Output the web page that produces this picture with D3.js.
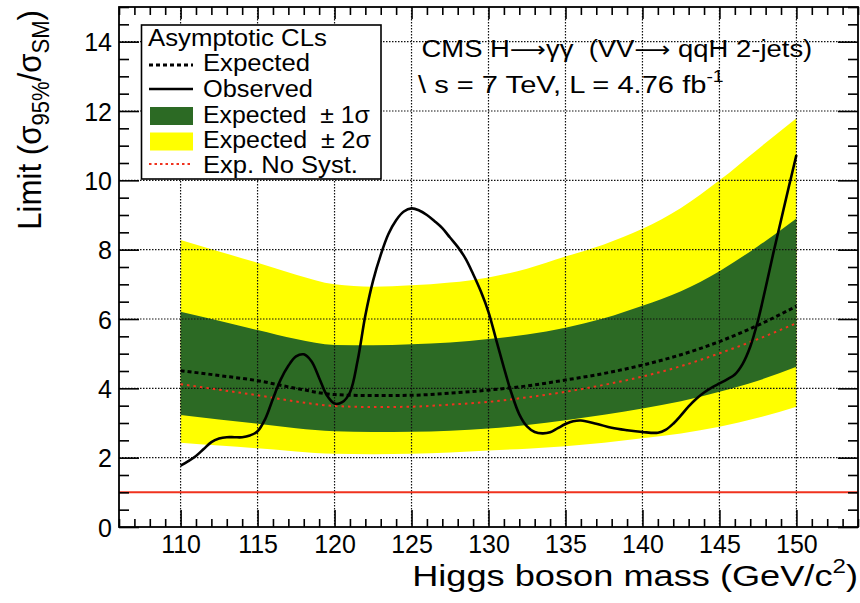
<!DOCTYPE html>
<html><head><meta charset="utf-8">
<script src="https://cdn.jsdelivr.net/npm/d3@7"></script>
<style>
body{margin:0;background:#fff}
text{font-family:"Liberation Sans",Arial,Helvetica,sans-serif;fill:#000}
</style>
</head><body>
<svg id="c" width="860" height="603"></svg>
<script>
// ---- data ----
const bandMass  = [110,112.5,115,117.5,120,122.5,125,127.5,130,132.5,135,137.5,140,142.5,145,147.5,150];
const yellowHi  = [8.28,7.95,7.62,7.28,7.00,6.93,6.97,7.05,7.20,7.45,7.80,8.15,8.60,9.20,10.0,10.9,11.79];
const greenHi   = [6.21,5.95,5.68,5.42,5.25,5.24,5.27,5.32,5.42,5.55,5.75,6.02,6.38,6.80,7.38,8.10,8.90];
const greenLo   = [3.23,3.10,2.98,2.85,2.76,2.74,2.75,2.78,2.84,2.94,3.08,3.24,3.42,3.63,3.90,4.22,4.62];
const yellowLo  = [2.43,2.35,2.27,2.18,2.11,2.10,2.11,2.15,2.21,2.26,2.33,2.43,2.56,2.70,2.89,3.15,3.47];
const expected  = [4.51,4.37,4.22,4.00,3.82,3.79,3.80,3.86,3.95,4.07,4.24,4.43,4.67,4.97,5.35,5.82,6.37];
const expNoSyst = [4.12,3.96,3.80,3.62,3.49,3.46,3.47,3.53,3.61,3.74,3.90,4.10,4.34,4.64,5.01,5.42,5.88];

const obsMass  = [110,110.5,111,111.5,112,112.5,113,113.5,114,114.5,115,115.5,116,116.5,117,117.5,118,118.5,119,119.5,120,120.5,121,121.5,122,122.5,123,123.5,124,124.5,125,125.5,126,126.5,127,127.5,128,128.5,129,129.5,130,130.5,131,131.5,132,132.5,133,133.5,134,134.5,135,135.5,136,137,138,139,140,141,141.5,142,142.5,143,143.5,144,144.5,145,145.5,146,146.5,147,147.5,148,148.5,149,149.5,150];
const observed = [1.77,1.90,2.05,2.25,2.45,2.55,2.59,2.59,2.59,2.64,2.76,3.12,3.70,4.25,4.65,4.92,4.98,4.78,4.30,3.80,3.56,3.60,3.88,4.80,6.10,7.10,7.85,8.45,8.85,9.10,9.19,9.13,9.00,8.82,8.62,8.35,8.08,7.75,7.30,6.80,6.20,5.40,4.60,3.85,3.25,2.90,2.74,2.70,2.73,2.85,2.97,3.05,3.07,2.98,2.86,2.79,2.74,2.72,2.80,2.98,3.22,3.48,3.70,3.88,4.02,4.14,4.26,4.40,4.70,5.20,5.95,6.90,7.90,8.85,9.80,10.73];

const smLine = 1;
const xTicksMajor = [110,115,120,125,130,135,140,145,150];
const yTicksMajor = [0,2,4,6,8,10,12,14];
const xTicksMinor = d3.range(106,155,1).filter(v => v % 5 !== 0);
const yTicksMinor = d3.range(0,15.01,0.5).filter(v => v % 2 !== 0);

const legendLabels = ["Expected","Observed","Expected  \u00b1 1\u03c3","Expected  \u00b1 2\u03c3","Exp. No Syst."];

// ---- layout ----
const svg = d3.select("#c");
const L = 119, R = 858, T = 7, B = 527;
const x = d3.scaleLinear().domain([106,154]).range([L,R]);
const y = d3.scaleLinear().domain([0,15]).range([B,T]);

const cYellow = "#ffff00", cGreen = "#2c6a24", cRed = "#f0321e";

const band = bandMass.map((m,i)=>({m, yl:yellowLo[i], yh:yellowHi[i], gl:greenLo[i], gh:greenHi[i], e:expected[i], n:expNoSyst[i]}));
const curve = d3.curveMonotoneX;

svg.append("path").datum(band).attr("fill",cYellow)
  .attr("d", d3.area().curve(curve).x(d=>x(d.m)).y0(d=>y(d.yl)).y1(d=>y(d.yh)));
svg.append("path").datum(band).attr("fill",cGreen)
  .attr("d", d3.area().curve(curve).x(d=>x(d.m)).y0(d=>y(d.gl)).y1(d=>y(d.gh)));

// grid
const grid = svg.append("g").attr("stroke","#111").attr("stroke-width",1.2).attr("stroke-dasharray","1.5,1.5");
xTicksMajor.forEach(v => grid.append("line").attr("x1",x(v)).attr("x2",x(v)).attr("y1",T).attr("y2",B));
yTicksMajor.filter(v=>v>0).forEach(v => grid.append("line").attr("x1",L).attr("x2",R).attr("y1",y(v)).attr("y2",y(v)));

// SM line
svg.append("line").attr("x1",L).attr("x2",R).attr("y1",y(smLine)).attr("y2",y(smLine))
  .attr("stroke",cRed).attr("stroke-width",2);

// expected lines
svg.append("path").datum(band).attr("fill","none").attr("stroke",cRed).attr("stroke-width",2)
  .attr("stroke-dasharray","2.5,4")
  .attr("d", d3.line().curve(curve).x(d=>x(d.m)).y(d=>y(d.n)));
svg.append("path").datum(band).attr("fill","none").attr("stroke","#000").attr("stroke-width",3)
  .attr("stroke-dasharray","4,3")
  .attr("d", d3.line().curve(curve).x(d=>x(d.m)).y(d=>y(d.e)));

// observed
const obs = obsMass.map((m,i)=>({m, v:observed[i]}));
svg.append("path").datum(obs).attr("fill","none").attr("stroke","#000").attr("stroke-width",2.6)
  .attr("stroke-linejoin","round")
  .attr("d", d3.line().curve(d3.curveCatmullRom.alpha(0.5)).x(d=>x(d.m)).y(d=>y(d.v)));

// axes
function styleAxis(g){ g.select(".domain").remove(); g.selectAll(".tick line").attr("stroke","#000").attr("stroke-width",1.6); g.selectAll("text").attr("font-family",null); }
svg.append("g").attr("transform",`translate(0,${B})`)
  .call(d3.axisBottom(x).tickValues(xTicksMajor).tickSize(-17).tickPadding(8).tickFormat(d3.format("d")))
  .call(styleAxis).call(g=>g.selectAll("text").attr("font-size",25));
svg.append("g").attr("transform",`translate(0,${B})`)
  .call(d3.axisBottom(x).tickValues(xTicksMinor).tickSize(-8).tickFormat(""))
  .call(styleAxis);
svg.append("g").attr("transform",`translate(0,${T})`)
  .call(d3.axisTop(x).tickValues(xTicksMajor).tickSize(-12).tickFormat(""))
  .call(styleAxis);
svg.append("g").attr("transform",`translate(0,${T})`)
  .call(d3.axisTop(x).tickValues(xTicksMinor).tickSize(-8).tickFormat(""))
  .call(styleAxis);
svg.append("g").attr("transform",`translate(${L},0)`)
  .call(d3.axisLeft(y).tickValues(yTicksMajor).tickSize(-20).tickPadding(7).tickFormat(d3.format("d")))
  .call(styleAxis).call(g=>g.selectAll("text").attr("font-size",25).attr("dy","0.36em"));
svg.append("g").attr("transform",`translate(${L},0)`)
  .call(d3.axisLeft(y).tickValues(yTicksMinor).tickSize(-10).tickFormat(""))
  .call(styleAxis);
svg.append("g").attr("transform",`translate(${R},0)`)
  .call(d3.axisRight(y).tickValues(yTicksMajor).tickSize(-20).tickFormat(""))
  .call(styleAxis);
svg.append("g").attr("transform",`translate(${R},0)`)
  .call(d3.axisRight(y).tickValues(yTicksMinor).tickSize(-10).tickFormat(""))
  .call(styleAxis);

// frame
svg.append("rect").attr("x",L).attr("y",T).attr("width",R-L).attr("height",B-T)
  .attr("fill","none").attr("stroke","#000").attr("stroke-width",1.8);

// helper: text fitted to width, horizontal
function fitText(g, x0, y0, width, anchor, build, size){
  const grp = g.append("g");
  const t = grp.append("text").attr("font-size",size).attr("text-anchor",anchor).attr("x",0).attr("y",0);
  build(t);
  const w = t.node().getBBox().width;
  const sx = width ? width / w : 1;
  grp.attr("transform",`translate(${x0},${y0}) scale(${sx},1)`);
  return grp;
}

// legend
const lg = svg.append("g");
lg.append("rect").attr("x",141.5).attr("y",25).attr("width",239.5).attr("height",154)
  .attr("fill","#fff").attr("stroke","#000").attr("stroke-width",1.6);
fitText(lg,148,45.5,179,"start",t=>t.text("Asymptotic CLs"),23);
const rowsY = [71,96.5,122.5,148,173];
const symY  = [65,89,116,141.5,164];
const widths = [107,110,167,168,155];
legendLabels.forEach((lab,i)=>{
  fitText(lg,203,rowsY[i],widths[i],"start",t=>t.attr("xml:space","preserve").style("white-space","pre").text(lab),23);
});
lg.append("line").attr("x1",149).attr("x2",193).attr("y1",symY[0]).attr("y2",symY[0])
  .attr("stroke","#000").attr("stroke-width",3).attr("stroke-dasharray","4,3");
lg.append("line").attr("x1",149).attr("x2",193).attr("y1",symY[1]).attr("y2",symY[1])
  .attr("stroke","#000").attr("stroke-width",2.6);
lg.append("rect").attr("x",150).attr("y",symY[2]-9).attr("width",43).attr("height",18).attr("fill",cGreen);
lg.append("rect").attr("x",150).attr("y",symY[3]-9).attr("width",43).attr("height",18).attr("fill",cYellow);
lg.append("line").attr("x1",149).attr("x2",193).attr("y1",symY[4]).attr("y2",symY[4])
  .attr("stroke",cRed).attr("stroke-width",2).attr("stroke-dasharray","2.5,3");

// top-right labels
fitText(svg,421.5,57,391,"start",t=>{
  t.attr("xml:space","preserve").style("white-space","pre");
  t.append("tspan").text("CMS H");
  t.append("tspan").attr("font-family","DejaVu Sans").attr("font-size",22).text("\u27f6");
  t.append("tspan").text("\u03b3\u03b3  (VV");
  t.append("tspan").attr("font-family","DejaVu Sans").attr("font-size",22).text("\u27f6");
  t.append("tspan").text(" qqH 2-jets)");
},24);
fitText(svg,418,93,306,"start",t=>{
  t.attr("xml:space","preserve").style("white-space","pre");
  t.append("tspan").text("\\ s = 7 TeV, L = 4.76 fb");
  t.append("tspan").attr("font-size",16).attr("dy",-11).text("-1");
},24);

// x title
fitText(svg,858,586,446,"end",t=>{
  t.append("tspan").text("Higgs boson mass (GeV/c");
  t.append("tspan").attr("font-size",20).attr("dy",-13).text("2");
  t.append("tspan").attr("dy",13).text(")");
},30);

// y title (rotated)
{
  const grp = svg.append("g");
  const t = grp.append("text").attr("font-size",34).attr("text-anchor","end").attr("x",0).attr("y",0);
  t.append("tspan").text("Limit (\u03c3");
  t.append("tspan").attr("font-size",24).attr("dy",8).text("95%");
  t.append("tspan").attr("dy",-8).text("/\u03c3");
  t.append("tspan").attr("font-size",24).attr("dy",8).text("SM");
  t.append("tspan").attr("dy",-8).text(")");
  const w = t.node().getBBox().width;
  const sx = 220 / w;
  grp.attr("transform",`translate(41,10) rotate(-90) scale(${sx},1)`);
}
</script>
</body></html>
